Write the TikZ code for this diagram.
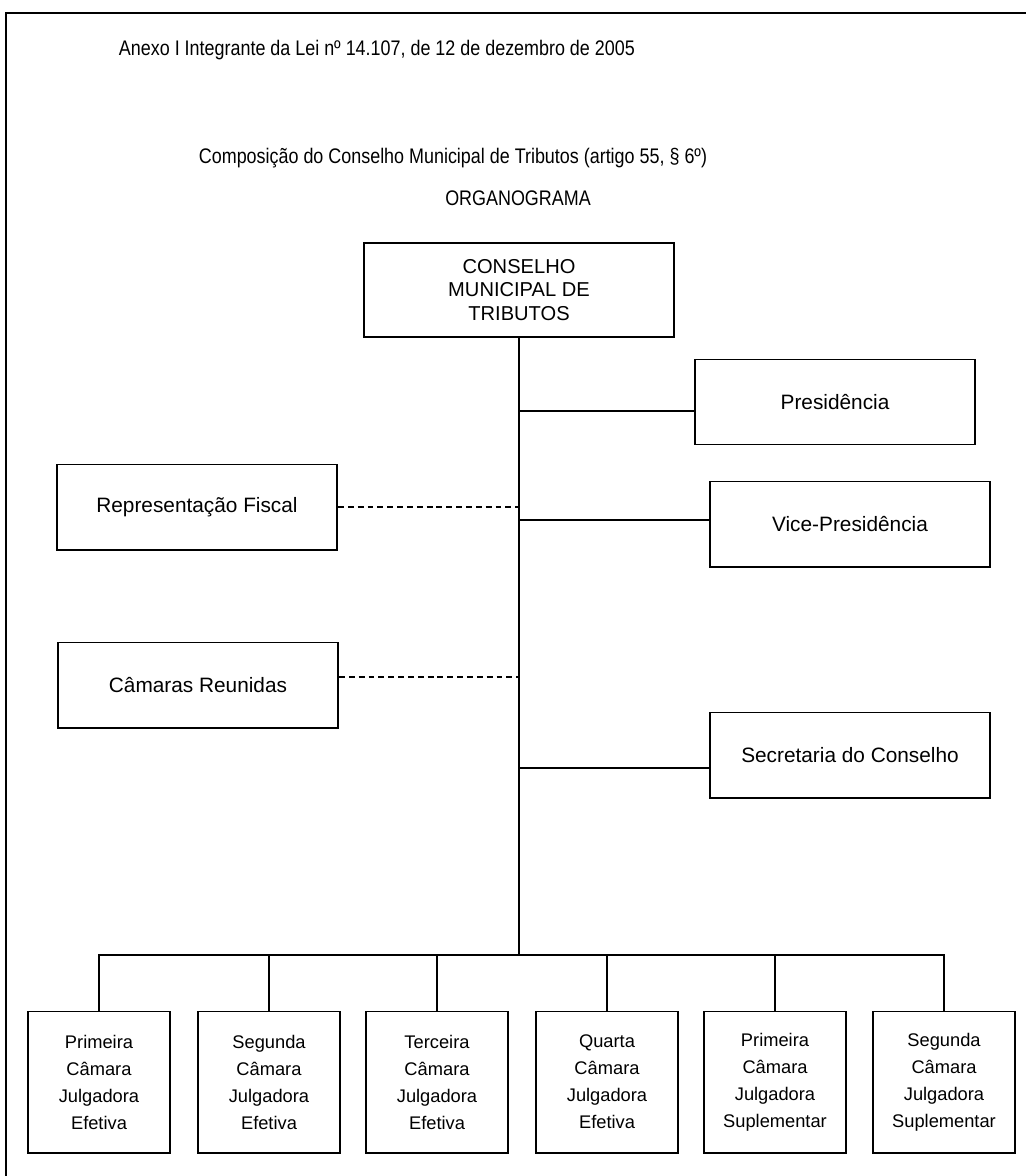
\documentclass[tikz,border=0pt]{standalone}
\usepackage{fontspec}
\setmainfont{Liberation Sans}
\newfontfamily\narrowfont[FakeStretch=0.85]{Liberation Sans}
\newcommand{\px}{0.7113pt}
\tikzset{
  heading/.style={font=\narrowfont\fontsize{15}{17}\selectfont},
  orgbox/.style={draw, line width=1.4pt, align=center, inner sep=0pt,
    minimum width=280*\px, minimum height=85*\px, font=\fontsize{14.8}{17}\selectfont},
  camara/.style={orgbox, minimum width=142*\px, minimum height=141*\px,
    font=\fontsize{13}{19.2}\selectfont},
  link/.style={line width=1.1pt},
  fiscal/.style={link, dash pattern=on 4.2pt off 2.8pt},
}
\begin{document}
\begin{tikzpicture}[x=0.025cm, y=-0.025cm]
  \useasboundingbox (0,0) rectangle (1026,1176);
  \draw[line width=2pt] (6,1176) -- (6,13) -- (1026,13);
  % titles
  \node (anexo) [heading, anchor=west] at (114,50) {Anexo I Integrante da Lei nº 14.107, de 12 de dezembro de 2005};
  \node (titulo) [heading] at (453,158) {Composição do Conselho Municipal de Tributos (artigo 55, § 6º)};
  \node (organo) [heading] at (518,198) {ORGANOGRAMA};
  % boxes
  \node (cmt) [orgbox, minimum width=310*\px, minimum height=94*\px, font=\fontsize{14.3}{17}\selectfont] at (519,290) {CONSELHO\\MUNICIPAL DE\\TRIBUTOS};
  \node (presid) [orgbox] at (835,402) {Presidência};
  \node (repfis) [orgbox] at (197,507) {Representação Fiscal};
  \node (vice) [orgbox] at (850,524) {Vice-Presidência};
  \node (camreu) [orgbox] at (198,685) {Câmaras Reunidas};
  \node (secret) [orgbox] at (850,755) {Secretaria do Conselho};
  \foreach \n/\x/\txt in {1/99/{Primeira\\Câmara\\Julgadora\\Efetiva},
      2/269/{Segunda\\Câmara\\Julgadora\\Efetiva},
      3/437/{Terceira\\Câmara\\Julgadora\\Efetiva},
      4/607/{Quarta\\Câmara\\Julgadora\\Efetiva},
      5/775/{Primeira\\Câmara\\Julgadora\\Suplementar},
      6/944/{Segunda\\Câmara\\Julgadora\\Suplementar}}
    \node (c\n) [camara] at (\x,1082) {\txt};
  % connectors
  \coordinate (bus) at (519,955);
  \coordinate (pl) at ([yshift=-6.4pt]presid.west);
  \coordinate (vl) at ([yshift=2.8pt]vice.west);
  \coordinate (sl) at ([yshift=-9.2pt]secret.west);
  \coordinate (cl) at ([yshift=5.7pt]camreu.east);
  \draw[link] (cmt.south) -- (bus);
  \draw[link] (pl) -- (pl -| cmt.south);
  \draw[link] (vl) -- (vl -| cmt.south);
  \draw[link] (sl) -- (sl -| cmt.south);
  \draw[fiscal] (repfis.east) -- (repfis.east -| cmt.south);
  \draw[fiscal] (cl) -- (cl -| cmt.south);
  \draw[link] (c1.north) |- (bus) -| (c6.north);
  \foreach \n in {2,...,5}
    \draw[link] (c\n.north) -- (c\n.north |- bus);
\end{tikzpicture}
\end{document}
